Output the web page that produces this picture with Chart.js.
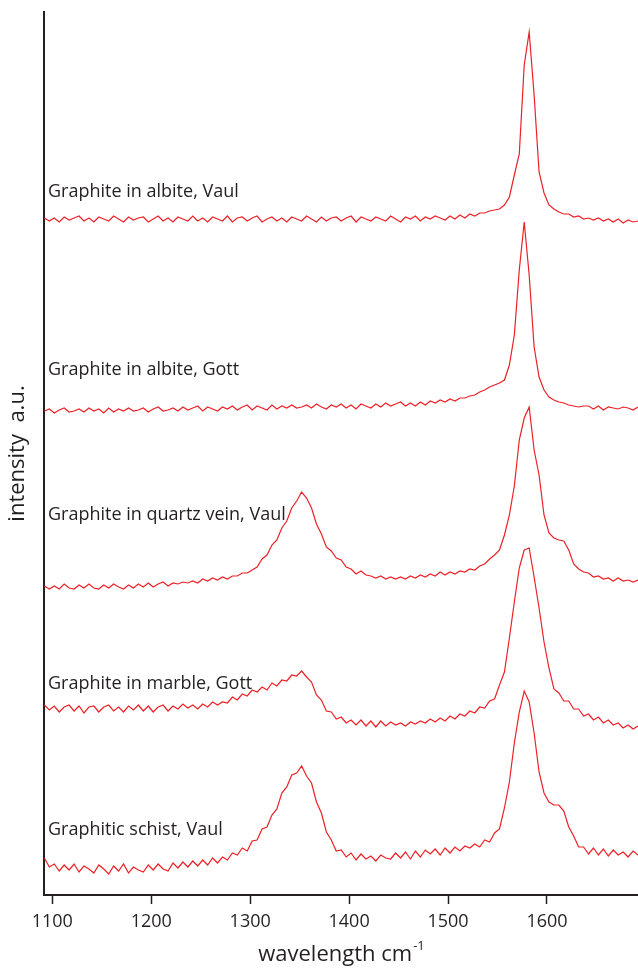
<!DOCTYPE html>
<html>
<head>
<meta charset="utf-8">
<script src="https://cdn.jsdelivr.net/npm/chart.js@4.4.1/dist/chart.umd.min.js"></script>
<style>
  html, body { margin: 0; padding: 0; background: #fff; }
  #wrap { width: 638px; height: 968px; position: relative; }
</style>
</head>
<body>
<div id="wrap"><canvas id="spectra"></canvas></div>
<script>
// Raman shift grid (cm-1)
const wavenumbers = [
  1092, 1097, 1102, 1107, 1112, 1117, 1122, 1127, 1132, 1137,
  1142, 1147, 1152, 1157, 1162, 1167, 1172, 1177, 1182, 1187,
  1192, 1197, 1202, 1207, 1212, 1217, 1222, 1227, 1232, 1237,
  1242, 1247, 1252, 1257, 1262, 1267, 1272, 1277, 1282, 1287,
  1292, 1297, 1302, 1307, 1312, 1317, 1322, 1327, 1332, 1337,
  1342, 1347, 1352, 1357, 1362, 1367, 1372, 1377, 1382, 1387,
  1392, 1397, 1402, 1407, 1412, 1417, 1422, 1427, 1432, 1437,
  1442, 1447, 1452, 1457, 1462, 1467, 1472, 1477, 1482, 1487,
  1492, 1497, 1502, 1507, 1512, 1517, 1522, 1527, 1532, 1537,
  1542, 1547, 1552, 1557, 1562, 1567, 1572, 1577, 1582, 1587,
  1592, 1597, 1602, 1607, 1612, 1617, 1622, 1627, 1632, 1637,
  1642, 1647, 1652, 1657, 1662, 1667, 1672, 1677, 1682, 1687, 1692
];

const sampleNames = [
  'Graphite in albite, Vaul',
  'Graphite in albite, Gott',
  'Graphite in quartz vein, Vaul',
  'Graphite in marble, Gott',
  'Graphitic schist, Vaul'
];

// stacked intensities (a.u., offset already included)
const albiteVaul = [
  677, 674, 677, 673, 678, 675, 677, 679, 674, 677,
  673, 678, 676, 674, 679, 676, 673, 678, 675, 677,
  678, 673, 676, 679, 674, 677, 673, 678, 676, 674,
  679, 674, 677, 673, 678, 676, 674, 679, 673, 677,
  678, 674, 677, 679, 673, 676, 678, 674, 677, 673,
  678, 676, 674, 679, 676, 673, 678, 674, 677, 678,
  674, 677, 679, 673, 678, 676, 674, 678, 676, 674,
  679, 676, 673, 678, 676, 679, 674, 678, 676, 679,
  677, 675, 679, 676, 680, 677, 681, 679, 682, 682,
  684, 685, 686, 690, 698, 720, 741, 830, 863, 800,
  723, 702, 690, 686, 683, 681, 681, 678, 679, 676,
  677, 675, 677, 674, 676, 673, 676, 672, 675, 673, 674
];

const albiteGott = [
  484, 486, 482, 485, 487, 483, 484, 486, 483, 487,
  484, 486, 482, 487, 483, 486, 484, 487, 484, 485,
  487, 483, 486, 488, 484, 485, 487, 484, 488, 485,
  487, 489, 484, 488, 486, 484, 488, 486, 489, 485,
  488, 490, 485, 489, 487, 485, 490, 486, 489, 487,
  490, 487, 488, 490, 487, 491, 488, 486, 490, 488,
  491, 487, 490, 486, 491, 489, 487, 491, 488, 492,
  489, 491, 493, 489, 492, 489, 493, 490, 494, 492,
  495, 493, 496, 494, 497, 497, 499, 500, 503, 505,
  508, 510, 512, 515, 530, 560, 625, 673, 620, 548,
  518, 505, 498, 495, 493, 492, 490, 489, 488, 489,
  489, 486, 489, 485, 488, 487, 486, 488, 487, 485, 488
];

const quartzVaul = [
  309, 306, 309, 306, 311, 307, 306, 310, 307, 311,
  307, 306, 310, 307, 311, 308, 306, 310, 307, 311,
  308, 312, 308, 311, 313, 309, 312, 311, 313, 312,
  314, 312, 316, 314, 317, 315, 318, 316, 319, 319,
  322, 322, 325, 328, 336, 340, 350, 355, 367, 374,
  387, 394, 403, 397, 387, 371, 361, 348, 344, 337,
  335, 328, 326, 321, 324, 320, 319, 317, 319, 316,
  318, 316, 318, 316, 319, 317, 320, 318, 321, 319,
  323, 320, 323, 321, 324, 323, 326, 325, 329, 331,
  336, 340, 345, 360, 380, 409, 455, 477, 488, 445,
  420, 380, 362, 357, 355, 354, 345, 331, 326, 323,
  322, 318, 319, 316, 317, 314, 317, 314, 315, 313, 315
];

const marbleGott = [
  190, 185, 189, 183, 188, 190, 184, 189, 182, 188,
  189, 183, 188, 190, 184, 188, 183, 189, 185, 190,
  184, 189, 183, 188, 190, 184, 189, 186, 191, 187,
  190, 186, 191, 188, 193, 190, 193, 192, 198, 195,
  201, 199, 205, 203, 208, 205, 212, 209, 215, 214,
  220, 219, 224, 218, 213, 200, 195, 184, 183, 176,
  178, 172, 175, 170, 175, 169, 174, 168, 174, 169,
  173, 170, 172, 169, 173, 171, 174, 172, 176, 173,
  177, 174, 179, 176, 181, 179, 184, 182, 188, 187,
  194, 196, 210, 223, 257, 293, 327, 345, 347, 318,
  287, 253, 227, 206, 202, 194, 194, 186, 186, 179,
  181, 175, 178, 172, 175, 170, 172, 167, 170, 166, 169
];

const schistVaul = [
  37, 28, 31, 24, 30, 25, 31, 23, 29, 26,
  22, 30, 26, 21, 29, 24, 31, 22, 28, 25,
  23, 30, 25, 31, 26, 24, 32, 27, 33, 28,
  34, 29, 35, 30, 37, 32, 38, 35, 42, 40,
  47, 44, 54, 55, 66, 68, 80, 86, 102, 108,
  120, 122, 129, 119, 112, 93, 82, 63, 55, 44,
  45, 38, 42, 35, 41, 36, 39, 34, 40, 37,
  36, 42, 37, 43, 36, 44, 38, 45, 41, 46,
  40, 47, 42, 48, 44, 49, 47, 51, 48, 55,
  53, 62, 66, 87, 113, 152, 183, 204, 193, 162,
  123, 102, 93, 90, 90, 84, 68, 59, 48, 48,
  41, 47, 40, 46, 39, 45, 40, 43, 38, 44, 40
];

const tickValues = [1100, 1200, 1300, 1400, 1500, 1600];

const ink = '#231f20';
const lineRed = '#ec2027';
const spectra = [albiteVaul, albiteGott, quartzVaul, marbleGott, schistVaul];

// where each sample name sits (same units as the intensity axis)
const labelLevel = [703, 525, 380, 211, 65];

const labelPlugin = {
  id: 'sampleLabels',
  afterDatasetsDraw(chart) {
    const ctx = chart.ctx;
    const y = chart.scales.y;
    ctx.save();
    ctx.fillStyle = ink;
    ctx.font = '18px "Open Sans"';
    ctx.textAlign = 'left';
    ctx.textBaseline = 'middle';
    sampleNames.forEach((name, i) => {
      ctx.fillText(name, chart.chartArea.left + 4, y.getPixelForValue(labelLevel[i]));
    });

    // axis titles
    ctx.font = '22px "Open Sans"';
    const cx = (chart.chartArea.left + chart.chartArea.right) / 2;
    const w1 = ctx.measureText('wavelength cm').width;
    ctx.font = '13px "Open Sans"';
    const w2 = ctx.measureText('-1').width;
    const startX = cx - (w1 + w2) / 2;
    ctx.font = '22px "Open Sans"';
    ctx.fillText('wavelength cm', startX, 955);
    ctx.font = '13px "Open Sans"';
    ctx.fillText('-1', startX + w1 + 1, 946);

    ctx.translate(18, (chart.chartArea.top + chart.chartArea.bottom) / 2);
    ctx.rotate(-Math.PI / 2);
    ctx.font = '22px "Open Sans"';
    ctx.textAlign = 'center';
    ctx.fillText('intensity  a.u.', 0, 0);
    ctx.restore();
  }
};

const datasets = spectra.map((vals, i) => ({
  label: sampleNames[i],
  data: vals.map((v, k) => ({ x: wavenumbers[k], y: v })),
  borderColor: lineRed,
  borderWidth: 1.2,
  pointRadius: 0,
  tension: 0,
  fill: false
}));

const config = {
  type: 'line',
  data: { datasets },
  options: {
    responsive: false,
    animation: false,
    layout: { padding: { top: 12, left: 0, right: 0, bottom: 0 } },
    plugins: {
      legend: { display: false },
      tooltip: { enabled: false }
    },
    scales: {
      x: {
        type: 'linear',
        min: 1091.6,
        max: 1692,
        afterBuildTicks: s => { s.ticks = tickValues.map(v => ({ value: v })); },
        afterFit: s => { s.height = 73; },
        grid: { drawOnChartArea: false, drawTicks: true, tickLength: 9, tickColor: ink, tickWidth: 1.5 },
        border: { color: ink, width: 2 },
        ticks: {
          color: ink,
          font: { family: 'Open Sans', size: 18 },
          padding: 7,
          maxRotation: 0,
          callback: v => String(v)
        }
      },
      y: {
        min: 0,
        max: 883,
        afterFit: s => { s.width = 44; },
        grid: { display: false, drawTicks: false },
        border: { color: ink, width: 2 },
        ticks: { display: false }
      }
    }
  },
  plugins: [labelPlugin]
};

const canvas = document.getElementById('spectra');
canvas.width = 638;
canvas.height = 968;
window.myChart = new Chart(canvas, config);
</script>
</body>
</html>
